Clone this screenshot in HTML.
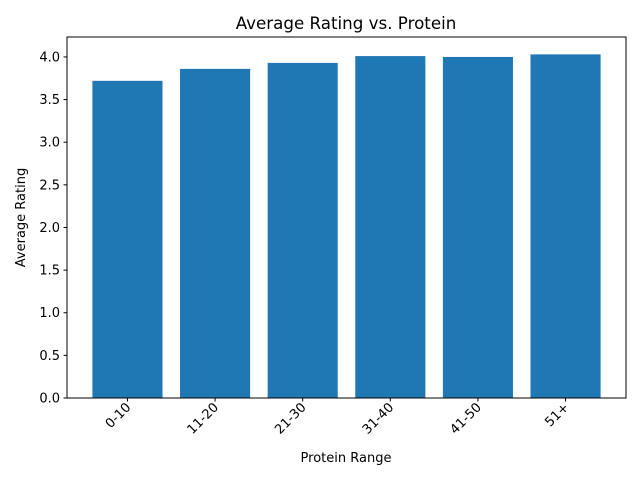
<!DOCTYPE html>
<html><head><meta charset="utf-8"><style>
body{margin:0;background:#fff;}
svg text{font-family:"DejaVu Sans","Liberation Sans",sans-serif;fill:#000;}
</style></head><body>
<svg id="chart" width="640" height="480" xmlns="http://www.w3.org/2000/svg">
<rect width="640" height="480" fill="#fff"/>
<text x="346" y="29" font-size="16.7" text-anchor="middle">Average Rating vs. Protein</text>
<g id="bars"></g>
<g id="yaxis"></g>
<g id="xaxis"></g>
<rect x="67" y="37" width="559" height="361" fill="none" stroke="#000" stroke-width="1"/>
<text x="346" y="462" font-size="13" text-anchor="middle">Protein Range</text>
<text transform="translate(25,217.5) rotate(-90)" font-size="13" text-anchor="middle">Average Rating</text>
</svg>
<script>
const categories=["0-10","11-20","21-30","31-40","41-50","51+"];
const ratings=[3.72,3.86,3.93,4.01,4.00,4.03];
const yTicks=[0,0.5,1,1.5,2,2.5,3,3.5,4];
const NS="http://www.w3.org/2000/svg";
const L=67,R=626,T=37,B=398;
const xmin=-0.69,xmax=5.69;
const ymax=4.234;
const x=v=>L+(v-xmin)/(xmax-xmin)*(R-L);
const y=v=>B-v/ymax*(B-T);
const bw=0.8*(R-L)/(xmax-xmin);
function mk(t,a){const e=document.createElementNS(NS,t);for(const k in a)e.setAttribute(k,a[k]);return e;}
const gb=document.getElementById('bars'),gy=document.getElementById('yaxis'),gx=document.getElementById('xaxis');
ratings.forEach((v,i)=>{
 const r=mk('rect',{x:x(i)-bw/2,y:y(v),width:bw,height:B-y(v),fill:'#1f77b4'});
 
 
 gb.appendChild(r);
});
yTicks.forEach(t=>{
 const l=mk('line',{x1:L-3.5,x2:L,y1:y(t),y2:y(t),stroke:'#000'});
 
 
 gy.appendChild(l);
 const s=mk('text',{x:L-7,y:y(t)+4.5,'font-size':13,'text-anchor':'end'});
 s.textContent=t.toFixed(1);
 
 
 gy.appendChild(s);
});
categories.forEach((c,i)=>{
 const l=mk('line',{x1:x(i),x2:x(i),y1:B,y2:B+3.5,stroke:'#000'});
 
 
 gx.appendChild(l);
 const s=mk('text',{transform:`translate(${x(i)+4},${B+10}) rotate(-45)`,'font-size':13,'text-anchor':'end'});
 s.textContent=c;
 
 
 gx.appendChild(s);
});
</script>
</body></html>
